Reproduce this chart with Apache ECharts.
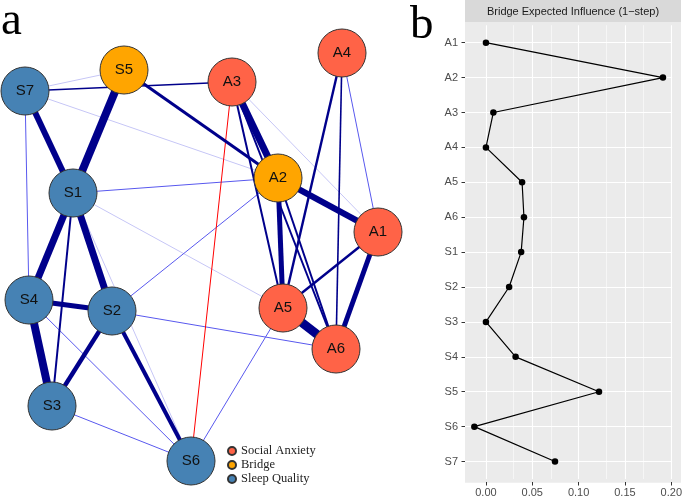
<!DOCTYPE html>
<html><head><meta charset="utf-8">
<script src="https://cdn.jsdelivr.net/npm/echarts@6/dist/echarts.min.js"></script>
<style>html,body{margin:0;padding:0;background:#fff}#c{width:685px;height:498px}</style>
</head><body><div id="c"></div>
<script>
// ---- Panel b data ----
const categories = ['A1','A2','A3','A4','A5','A6','S1','S2','S3','S4','S5','S6','S7'];
const bridgeEI = [0.000,0.191,0.008,0.000,0.039,0.041,0.038,0.025,0.000,0.032,0.122,-0.0125,0.0745];
const xTickValues = [0,0.05,0.10,0.15,0.20];
const xMinorValues = [0.025,0.075,0.125,0.175];
const stripTitle = 'Bridge Expected Influence (1\u2212step)';

// ---- Panel a data (network) ----
const nodeNames = ['S7','S5','A3','A4','A2','S1','A1','S4','S2','A5','A6','S3','S6'];
const nodeGroup = [2,1,0,0,1,2,0,2,2,0,0,2,2];
const layoutX = [25,124,232,342,278,73,378,29,112,283,336,52,191];
const layoutY = [91,70,82,53,178,193,232,300,311,308,349,406,461];
const groupNames = ['Social Anxiety','Bridge','Sleep Quality'];
const edgeFrom = ['A5','S4','S5','A3','S1','S1','S7','A2','A1','A2','S4','S2','S2','S5','A1','A4','A3','A3','A2','S1','A4','S7',
                  'A4','S7','S1','S2','S2','S6','S4','S3','S7','S7','S1','A3','S1','A3'];
const edgeTo   = ['A6','S3','S1','A2','S4','S2','S1','A1','A6','A5','S2','S3','S6','A2','A5','A5','A5','A6','A6','S3','A6','A3',
                  'A1','S4','A2','A2','A6','A5','S6','S6','S5','A2','A5','A1','S6','S6'];
const edgeWeight = [0.45,0.40,0.40,0.35,0.35,0.35,0.30,0.30,0.25,0.25,0.25,0.22,0.20,0.15,0.12,0.12,0.10,0.10,0.10,0.10,0.08,0.08,
                    0.05,0.05,0.05,0.05,0.05,0.05,0.05,0.05,0.03,0.03,0.03,0.03,0.03,-0.05];

// ---- styles ----
const groupColors = ['#FF6347','#FFA500','#4682B4'];
function edgeColor(w){ if (w<0) return '#FF0000'; if (w>=0.07) return '#00008B'; if (w>=0.045) return '#5858EE'; return '#C6C6F6'; }
function edgeWidth(w){ return Math.max(1, Math.abs(w)*20); }

const links = edgeFrom.map((s,i)=>({source:s,target:edgeTo[i],w:edgeWeight[i]}))
  .sort((a,b)=>Math.abs(a.w)-Math.abs(b.w) || (a.w<0?1:-1))
  .map(l=>({source:l.source,target:l.target,lineStyle:{color:edgeColor(l.w),width:edgeWidth(l.w),opacity:1,curveness:0}}));

const gridLineData = [];
categories.forEach(c=>gridLineData.push({yAxis:c,lineStyle:{color:'#fff',width:1.1,type:'solid'}}));
xTickValues.forEach(v=>gridLineData.push({xAxis:v,lineStyle:{color:'#fff',width:1.1,type:'solid'}}));
xMinorValues.forEach(v=>gridLineData.push({xAxis:v,lineStyle:{color:'#fff',width:0.55,type:'solid'}}));

const chart = echarts.init(document.getElementById('c'), null, {renderer:'canvas'});
const option = {
  animation:false,
  graphic:[
    {type:'rect', z:0, shape:{x:465,y:0,width:216,height:22}, style:{fill:'#D9D9D9'}},
    {type:'rect', z:0, shape:{x:465,y:22,width:216,height:460.7}, style:{fill:'#EBEBEB'}},
    {type:'text', z:1, x:573, y:11.5, style:{text:stripTitle, align:'center', verticalAlign:'middle', font:'11px "Liberation Sans", Arial, sans-serif', fill:'#1A1A1A'}},
    {type:'text', z:1, x:1, y:22, style:{text:'a', align:'left', verticalAlign:'middle', font:'47px "Liberation Serif", "Times New Roman", serif', fill:'#000'}},
    {type:'text', z:1, x:410, y:26, style:{text:'b', align:'left', verticalAlign:'middle', font:'47px "Liberation Serif", "Times New Roman", serif', fill:'#000'}}
  ],
  legend:{
    data:groupNames, orient:'vertical', left:227, top:444, padding:0,
    itemWidth:8, itemHeight:8, itemGap:0, icon:'circle', selectedMode:false,
    textStyle:{fontFamily:'"Liberation Serif","Times New Roman",serif', fontSize:12.5, color:'#222', lineHeight:14}
  },
  grid:[
    {left:465, top:25.2, width:216, height:454.6},
    {left:0, top:0, width:400, height:498}
  ],
  xAxis:[
    {type:'value', gridIndex:0, min:-0.0226, max:0.2009, offset:3,
     splitLine:{show:false}, axisLine:{show:true, onZero:false, lineStyle:{color:'rgba(0,0,0,0)'}},
     axisTick:{show:true, length:3.5, customValues:xTickValues, lineStyle:{color:'#333',width:1}},
     axisLabel:{customValues:xTickValues, formatter:v=>v.toFixed(2), color:'#4D4D4D', fontSize:11, margin:5, fontFamily:'"Liberation Sans", Arial, sans-serif'}},
    {type:'value', gridIndex:1, min:0, max:400, show:false}
  ],
  yAxis:[
    {type:'category', gridIndex:0, data:categories, inverse:true,
     splitLine:{show:false}, axisLine:{show:true, onZero:false, lineStyle:{color:'rgba(0,0,0,0)'}},
     axisTick:{show:true, alignWithLabel:true, length:3.5, lineStyle:{color:'#333',width:1}},
     axisLabel:{color:'#4D4D4D', fontSize:11, margin:7, fontFamily:'"Liberation Sans", Arial, sans-serif'}},
    {type:'value', gridIndex:1, min:0, max:498, inverse:true, show:false}
  ],
  series:[
    {type:'line', xAxisIndex:0, yAxisIndex:0, z:3,
     data:categories.map((c,i)=>[bridgeEI[i], c]),
     symbol:'circle', symbolSize:6.5, showSymbol:true,
     lineStyle:{color:'#000', width:1.2}, itemStyle:{color:'#000'},
     markLine:{z:1, silent:true, symbol:['none','none'], label:{show:false}, animation:false, data:gridLineData}},
    {type:'graph', layout:'none', coordinateSystem:'cartesian2d', xAxisIndex:1, yAxisIndex:1, z:2,
     symbolSize:48,
     categories:groupNames.map((n,i)=>({name:n, itemStyle:{color:groupColors[i], borderColor:'#333', borderWidth:1}})),
     data:nodeNames.map((n,i)=>({name:n, value:[layoutX[i], layoutY[i]], category:nodeGroup[i]})),
     links:links,
     label:{show:true, position:'inside', formatter:'{b}', fontSize:15, color:'#111', fontFamily:'"Liberation Sans", Arial, sans-serif'},
     lineStyle:{opacity:1, curveness:0},
     emphasis:{disabled:true}}
  ]
};
chart.setOption(option);
</script></body></html>
